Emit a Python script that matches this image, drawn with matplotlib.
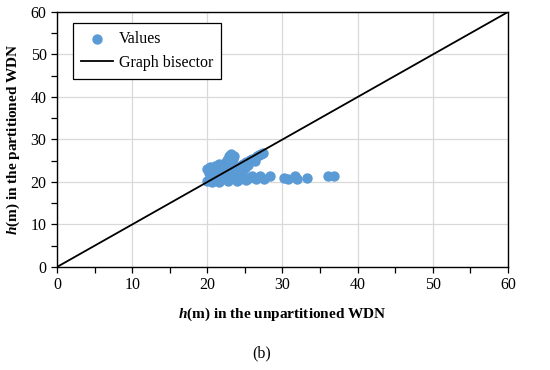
import matplotlib
matplotlib.use("Agg")
import matplotlib.pyplot as plt
from matplotlib.ticker import MultipleLocator

plt.rcParams["font.family"] = "Liberation Serif"
plt.rcParams["mathtext.fontset"] = "custom"
plt.rcParams["mathtext.it"] = "Liberation Serif:italic:bold"
plt.rcParams["mathtext.rm"] = "Liberation Serif:bold"

# unpartitioned head (x) vs partitioned head (y), metres
h_unpart = [
    20.0, 20.2, 20.4, 20.6, 20.8, 21.0, 21.2, 21.4, 21.6, 21.8, 22.0, 22.2,
    22.4, 22.6, 20.3, 20.9, 21.5, 22.1,
    22.6, 22.9, 23.2, 23.6, 23.4, 22.8,
    23.0, 23.4, 23.8, 23.2, 23.9, 24.2,
    24.4, 24.8, 25.1, 25.4, 25.7, 26.0, 26.3, 26.6, 26.9, 27.2, 27.4, 25.0, 24.6,
    20.0, 20.6, 21.0, 21.3, 21.6, 22.0, 22.4, 22.8, 23.2, 23.6, 24.0, 24.4,
    24.8, 25.2, 25.6, 26.0, 26.5, 27.0, 27.6, 28.4, 30.2, 30.8, 31.6, 31.9,
    33.3, 36.1, 36.8,
]
h_part = [
    23.0, 22.2, 23.6, 21.6, 22.8, 23.8, 22.0, 23.2, 24.2, 22.6, 23.6, 21.8,
    24.4, 23.0, 20.8, 21.2, 20.6, 20.9,
    25.2, 26.0, 26.5, 26.2, 25.4, 24.6,
    23.8, 22.6, 23.4, 21.8, 22.0, 23.0,
    23.8, 24.2, 24.6, 24.0, 25.1, 25.5, 25.0, 26.0, 26.4, 26.7, 26.8, 23.3, 22.9,
    20.2, 20.0, 20.5, 21.2, 20.1, 20.6, 21.3, 20.3, 20.9, 21.5, 20.2, 20.8,
    21.4, 20.5, 21.0, 21.5, 20.6, 21.3, 20.7, 21.4, 21.0, 20.7, 21.4, 20.6,
    20.9, 21.5, 21.3,
]
bisector = [0, 60]

fig = plt.figure(figsize=(5.5, 3.7), dpi=100)
ax = fig.add_axes([0.1036, 0.2784, 0.82, 0.6892])

ax.grid(True, color="#d9d9d9", linewidth=0.9)
ax.set_axisbelow(True)
ax.scatter(h_unpart, h_part, s=42, color="#5b9bd5", zorder=3, label="Values")
ax.plot(bisector, bisector, color="black", linewidth=1.3, zorder=4,
        label="Graph bisector")

ax.set_xlim(0, 60)
ax.set_ylim(0, 60)
ax.xaxis.set_major_locator(MultipleLocator(10))
ax.yaxis.set_major_locator(MultipleLocator(10))
ax.xaxis.set_minor_locator(MultipleLocator(5))
ax.yaxis.set_minor_locator(MultipleLocator(5))
ax.tick_params(which="both", direction="out", labelsize=11.5, colors="black",
               width=0.9, length=4)
for s in ax.spines.values():
    s.set_color("black")
    s.set_linewidth(1.0)

ax.set_xlabel("$h$(m) in the unpartitioned WDN", fontsize=11,
              fontweight="bold", labelpad=9)
ax.set_ylabel("$h$(m) in the partitioned WDN", fontsize=11,
              fontweight="bold", labelpad=6)

leg = ax.legend(loc="upper left", bbox_to_anchor=(0.035, 0.957), fontsize=11.5,
                fancybox=False, framealpha=1, edgecolor="black",
                borderaxespad=0, handlelength=2.0, borderpad=0.5,
                labelspacing=0.5, handletextpad=0.4)
leg.get_frame().set_linewidth(0.9)

fig.text(0.475, 0.045, "(b)", ha="center", va="center", fontsize=11.5)

plt.savefig("out.png", dpi=100)
